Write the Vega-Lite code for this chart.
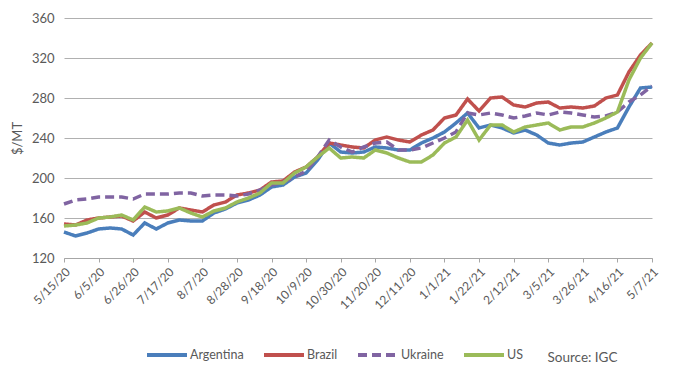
{
  "$schema": "https://vega.github.io/schema/vega-lite/v6.json",
  "width": 588,
  "height": 240,
  "autosize": {"type": "none"},
  "padding": {"left": 64, "top": 18, "right": 28, "bottom": 123},
  "background": "white",
  "config": {"font": "Lato", "view": {"stroke": null}},
  "data": {"values": [
    {"country":"Argentina","date":"2020-05-15","price":146},{"country":"Argentina","date":"2020-05-22","price":142},{"country":"Argentina","date":"2020-05-29","price":145},{"country":"Argentina","date":"2020-06-05","price":149},{"country":"Argentina","date":"2020-06-12","price":150},{"country":"Argentina","date":"2020-06-19","price":149},{"country":"Argentina","date":"2020-06-26","price":143},{"country":"Argentina","date":"2020-07-03","price":155},{"country":"Argentina","date":"2020-07-10","price":149},{"country":"Argentina","date":"2020-07-17","price":155},{"country":"Argentina","date":"2020-07-24","price":158},{"country":"Argentina","date":"2020-07-31","price":157},{"country":"Argentina","date":"2020-08-07","price":157},{"country":"Argentina","date":"2020-08-14","price":165},{"country":"Argentina","date":"2020-08-21","price":169},{"country":"Argentina","date":"2020-08-28","price":175},{"country":"Argentina","date":"2020-09-04","price":178},{"country":"Argentina","date":"2020-09-11","price":183},{"country":"Argentina","date":"2020-09-18","price":191},{"country":"Argentina","date":"2020-09-25","price":193},{"country":"Argentina","date":"2020-10-02","price":201},{"country":"Argentina","date":"2020-10-09","price":205},{"country":"Argentina","date":"2020-10-16","price":218},{"country":"Argentina","date":"2020-10-23","price":235},{"country":"Argentina","date":"2020-10-30","price":226},{"country":"Argentina","date":"2020-11-06","price":225},{"country":"Argentina","date":"2020-11-13","price":226},{"country":"Argentina","date":"2020-11-20","price":231},{"country":"Argentina","date":"2020-11-27","price":230},{"country":"Argentina","date":"2020-12-04","price":228},{"country":"Argentina","date":"2020-12-11","price":228},{"country":"Argentina","date":"2020-12-18","price":235},{"country":"Argentina","date":"2020-12-25","price":240},{"country":"Argentina","date":"2021-01-01","price":246},{"country":"Argentina","date":"2021-01-08","price":255},{"country":"Argentina","date":"2021-01-15","price":265},{"country":"Argentina","date":"2021-01-22","price":250},{"country":"Argentina","date":"2021-01-29","price":253},{"country":"Argentina","date":"2021-02-05","price":250},{"country":"Argentina","date":"2021-02-12","price":245},{"country":"Argentina","date":"2021-02-19","price":248},{"country":"Argentina","date":"2021-02-26","price":243},{"country":"Argentina","date":"2021-03-05","price":235},{"country":"Argentina","date":"2021-03-12","price":233},{"country":"Argentina","date":"2021-03-19","price":235},{"country":"Argentina","date":"2021-03-26","price":236},{"country":"Argentina","date":"2021-04-02","price":241},{"country":"Argentina","date":"2021-04-09","price":246},{"country":"Argentina","date":"2021-04-16","price":250},{"country":"Argentina","date":"2021-04-23","price":271},{"country":"Argentina","date":"2021-04-30","price":290},{"country":"Argentina","date":"2021-05-07","price":291},
    {"country":"Brazil","date":"2020-05-15","price":154},{"country":"Brazil","date":"2020-05-22","price":153},{"country":"Brazil","date":"2020-05-29","price":158},{"country":"Brazil","date":"2020-06-05","price":160},{"country":"Brazil","date":"2020-06-12","price":161},{"country":"Brazil","date":"2020-06-19","price":162},{"country":"Brazil","date":"2020-06-26","price":157},{"country":"Brazil","date":"2020-07-03","price":166},{"country":"Brazil","date":"2020-07-10","price":160},{"country":"Brazil","date":"2020-07-17","price":163},{"country":"Brazil","date":"2020-07-24","price":170},{"country":"Brazil","date":"2020-07-31","price":168},{"country":"Brazil","date":"2020-08-07","price":166},{"country":"Brazil","date":"2020-08-14","price":173},{"country":"Brazil","date":"2020-08-21","price":176},{"country":"Brazil","date":"2020-08-28","price":183},{"country":"Brazil","date":"2020-09-04","price":185},{"country":"Brazil","date":"2020-09-11","price":188},{"country":"Brazil","date":"2020-09-18","price":196},{"country":"Brazil","date":"2020-09-25","price":197},{"country":"Brazil","date":"2020-10-02","price":206},{"country":"Brazil","date":"2020-10-09","price":211},{"country":"Brazil","date":"2020-10-16","price":221},{"country":"Brazil","date":"2020-10-23","price":235},{"country":"Brazil","date":"2020-10-30","price":233},{"country":"Brazil","date":"2020-11-06","price":231},{"country":"Brazil","date":"2020-11-13","price":230},{"country":"Brazil","date":"2020-11-20","price":238},{"country":"Brazil","date":"2020-11-27","price":241},{"country":"Brazil","date":"2020-12-04","price":238},{"country":"Brazil","date":"2020-12-11","price":236},{"country":"Brazil","date":"2020-12-18","price":243},{"country":"Brazil","date":"2020-12-25","price":248},{"country":"Brazil","date":"2021-01-01","price":260},{"country":"Brazil","date":"2021-01-08","price":263},{"country":"Brazil","date":"2021-01-15","price":279},{"country":"Brazil","date":"2021-01-22","price":267},{"country":"Brazil","date":"2021-01-29","price":280},{"country":"Brazil","date":"2021-02-05","price":281},{"country":"Brazil","date":"2021-02-12","price":273},{"country":"Brazil","date":"2021-02-19","price":271},{"country":"Brazil","date":"2021-02-26","price":275},{"country":"Brazil","date":"2021-03-05","price":276},{"country":"Brazil","date":"2021-03-12","price":270},{"country":"Brazil","date":"2021-03-19","price":271},{"country":"Brazil","date":"2021-03-26","price":270},{"country":"Brazil","date":"2021-04-02","price":272},{"country":"Brazil","date":"2021-04-09","price":280},{"country":"Brazil","date":"2021-04-16","price":283},{"country":"Brazil","date":"2021-04-23","price":306},{"country":"Brazil","date":"2021-04-30","price":323},{"country":"Brazil","date":"2021-05-07","price":335},
    {"country":"Ukraine","date":"2020-05-15","price":174},{"country":"Ukraine","date":"2020-05-22","price":178},{"country":"Ukraine","date":"2020-05-29","price":179},{"country":"Ukraine","date":"2020-06-05","price":181},{"country":"Ukraine","date":"2020-06-12","price":181},{"country":"Ukraine","date":"2020-06-19","price":181},{"country":"Ukraine","date":"2020-06-26","price":179},{"country":"Ukraine","date":"2020-07-03","price":184},{"country":"Ukraine","date":"2020-07-10","price":184},{"country":"Ukraine","date":"2020-07-17","price":184},{"country":"Ukraine","date":"2020-07-24","price":185},{"country":"Ukraine","date":"2020-07-31","price":185},{"country":"Ukraine","date":"2020-08-07","price":182},{"country":"Ukraine","date":"2020-08-14","price":183},{"country":"Ukraine","date":"2020-08-21","price":183},{"country":"Ukraine","date":"2020-08-28","price":182},{"country":"Ukraine","date":"2020-09-04","price":184},{"country":"Ukraine","date":"2020-09-11","price":188},{"country":"Ukraine","date":"2020-09-18","price":193},{"country":"Ukraine","date":"2020-09-25","price":196},{"country":"Ukraine","date":"2020-10-02","price":201},{"country":"Ukraine","date":"2020-10-09","price":207},{"country":"Ukraine","date":"2020-10-16","price":221},{"country":"Ukraine","date":"2020-10-23","price":238},{"country":"Ukraine","date":"2020-10-30","price":231},{"country":"Ukraine","date":"2020-11-06","price":226},{"country":"Ukraine","date":"2020-11-13","price":231},{"country":"Ukraine","date":"2020-11-20","price":235},{"country":"Ukraine","date":"2020-11-27","price":236},{"country":"Ukraine","date":"2020-12-04","price":228},{"country":"Ukraine","date":"2020-12-11","price":228},{"country":"Ukraine","date":"2020-12-18","price":230},{"country":"Ukraine","date":"2020-12-25","price":235},{"country":"Ukraine","date":"2021-01-01","price":240},{"country":"Ukraine","date":"2021-01-08","price":246},{"country":"Ukraine","date":"2021-01-15","price":265},{"country":"Ukraine","date":"2021-01-22","price":263},{"country":"Ukraine","date":"2021-01-29","price":265},{"country":"Ukraine","date":"2021-02-05","price":263},{"country":"Ukraine","date":"2021-02-12","price":260},{"country":"Ukraine","date":"2021-02-19","price":262},{"country":"Ukraine","date":"2021-02-26","price":265},{"country":"Ukraine","date":"2021-03-05","price":263},{"country":"Ukraine","date":"2021-03-12","price":266},{"country":"Ukraine","date":"2021-03-19","price":265},{"country":"Ukraine","date":"2021-03-26","price":263},{"country":"Ukraine","date":"2021-04-02","price":261},{"country":"Ukraine","date":"2021-04-09","price":262},{"country":"Ukraine","date":"2021-04-16","price":266},{"country":"Ukraine","date":"2021-04-23","price":276},{"country":"Ukraine","date":"2021-04-30","price":283},{"country":"Ukraine","date":"2021-05-07","price":292},
    {"country":"US","date":"2020-05-15","price":152},{"country":"US","date":"2020-05-22","price":153},{"country":"US","date":"2020-05-29","price":155},{"country":"US","date":"2020-06-05","price":160},{"country":"US","date":"2020-06-12","price":161},{"country":"US","date":"2020-06-19","price":163},{"country":"US","date":"2020-06-26","price":158},{"country":"US","date":"2020-07-03","price":171},{"country":"US","date":"2020-07-10","price":166},{"country":"US","date":"2020-07-17","price":167},{"country":"US","date":"2020-07-24","price":170},{"country":"US","date":"2020-07-31","price":165},{"country":"US","date":"2020-08-07","price":161},{"country":"US","date":"2020-08-14","price":167},{"country":"US","date":"2020-08-21","price":170},{"country":"US","date":"2020-08-28","price":176},{"country":"US","date":"2020-09-04","price":180},{"country":"US","date":"2020-09-11","price":185},{"country":"US","date":"2020-09-18","price":195},{"country":"US","date":"2020-09-25","price":195},{"country":"US","date":"2020-10-02","price":205},{"country":"US","date":"2020-10-09","price":211},{"country":"US","date":"2020-10-16","price":221},{"country":"US","date":"2020-10-23","price":230},{"country":"US","date":"2020-10-30","price":220},{"country":"US","date":"2020-11-06","price":221},{"country":"US","date":"2020-11-13","price":220},{"country":"US","date":"2020-11-20","price":228},{"country":"US","date":"2020-11-27","price":225},{"country":"US","date":"2020-12-04","price":220},{"country":"US","date":"2020-12-11","price":216},{"country":"US","date":"2020-12-18","price":216},{"country":"US","date":"2020-12-25","price":223},{"country":"US","date":"2021-01-01","price":235},{"country":"US","date":"2021-01-08","price":241},{"country":"US","date":"2021-01-15","price":258},{"country":"US","date":"2021-01-22","price":238},{"country":"US","date":"2021-01-29","price":253},{"country":"US","date":"2021-02-05","price":253},{"country":"US","date":"2021-02-12","price":246},{"country":"US","date":"2021-02-19","price":251},{"country":"US","date":"2021-02-26","price":253},{"country":"US","date":"2021-03-05","price":255},{"country":"US","date":"2021-03-12","price":248},{"country":"US","date":"2021-03-19","price":251},{"country":"US","date":"2021-03-26","price":251},{"country":"US","date":"2021-04-02","price":255},{"country":"US","date":"2021-04-09","price":260},{"country":"US","date":"2021-04-16","price":266},{"country":"US","date":"2021-04-23","price":298},{"country":"US","date":"2021-04-30","price":320},{"country":"US","date":"2021-05-07","price":335}
  ]},
  "mark": {"type": "line", "strokeWidth": 3.5, "strokeCap": "butt", "interpolate": "linear"},
  "encoding": {
    "x": {
      "field": "date", "type": "temporal",
      "scale": {"type": "utc", "domain": [{"year": 2020, "month": 5, "date": 15, "utc": true}, {"year": 2021, "month": 5, "date": 7, "utc": true}], "nice": false},
      "axis": {
        "title": "Source: IGC", "titleFontSize": 13.5, "titleFontWeight": "normal", "titleColor": "#595959",
        "titleAlign": "right", "titleBaseline": "middle", "titleX": 553, "titleY": 99,
        "grid": false, "format": "%-m/%-d/%y",
        "values": [
          {"year":2020,"month":5,"date":15,"utc":true},{"year":2020,"month":6,"date":5,"utc":true},{"year":2020,"month":6,"date":26,"utc":true},{"year":2020,"month":7,"date":17,"utc":true},{"year":2020,"month":8,"date":7,"utc":true},{"year":2020,"month":8,"date":28,"utc":true},{"year":2020,"month":9,"date":18,"utc":true},{"year":2020,"month":10,"date":9,"utc":true},{"year":2020,"month":10,"date":30,"utc":true},{"year":2020,"month":11,"date":20,"utc":true},{"year":2020,"month":12,"date":11,"utc":true},{"year":2021,"month":1,"date":1,"utc":true},{"year":2021,"month":1,"date":22,"utc":true},{"year":2021,"month":2,"date":12,"utc":true},{"year":2021,"month":3,"date":5,"utc":true},{"year":2021,"month":3,"date":26,"utc":true},{"year":2021,"month":4,"date":16,"utc":true},{"year":2021,"month":5,"date":7,"utc":true}
        ],
        "labelAngle": -45, "labelFontSize": 12, "labelColor": "#595959", "labelPadding": 4,
        "domainColor": "#a6a6a6", "tickColor": "#a6a6a6", "tickSize": 4, "labelOverlap": false, "labelFlush": false
      }
    },
    "y": {
      "field": "price", "type": "quantitative",
      "scale": {"domain": [120, 360], "nice": false, "zero": false},
      "axis": {
        "title": "$/MT", "values": [120, 160, 200, 240, 280, 320, 360],
        "domain": false, "ticks": false, "gridColor": "#b0b0b0", "gridWidth": 1,
        "labelFontSize": 13, "labelColor": "#595959", "labelPadding": 10,
        "titleFontSize": 13, "titleFontWeight": "normal", "titleColor": "#595959", "titlePadding": 7
      }
    },
    "color": {
      "field": "country", "type": "nominal", "title": null,
      "scale": {"domain": ["Argentina", "Brazil", "Ukraine", "US"], "range": ["#4a7ebb", "#c0504d", "#8064a2", "#9bbb59"]},
      "legend": {
        "orient": "none", "direction": "horizontal", "legendX": 81, "legendY": 315,
        "symbolType": "stroke", "symbolStrokeWidth": 4, "symbolSize": 1600,
        "labelFontSize": 12.5, "labelColor": "#595959", "labelOffset": 1, "columnPadding": 12
      }
    },
    "strokeDash": {
      "field": "country", "type": "nominal", "title": null,
      "scale": {"domain": ["Argentina", "Brazil", "Ukraine", "US"], "range": [[1, 0], [1, 0], [9, 5], [1, 0]]},
      "legend": {
        "orient": "none", "direction": "horizontal", "legendX": 81, "legendY": 315,
        "symbolType": "stroke", "symbolStrokeWidth": 4, "symbolSize": 1600,
        "labelFontSize": 12.5, "labelColor": "#595959", "labelOffset": 1, "columnPadding": 12
      }
    }
  }
}
